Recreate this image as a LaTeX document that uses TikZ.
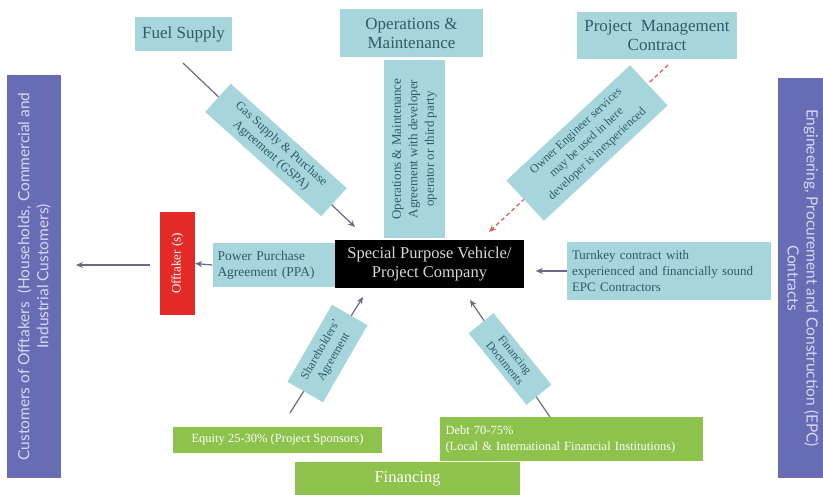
\documentclass[tikz,border=0pt]{standalone}
\usepackage{fontspec}
\setmainfont{Liberation Serif}
\newfontfamily\purplefont{Lato}
\usetikzlibrary{arrows.meta}
\definecolor{tealbox}{RGB}{166,214,219}
\definecolor{tealtext}{RGB}{45,92,108}
\definecolor{purplebox}{RGB}{104,108,180}
\definecolor{purpletext}{RGB}{214,216,238}
\definecolor{redbox}{RGB}{226,42,38}
\definecolor{greenbox}{RGB}{141,194,76}
\definecolor{arrowgrey}{RGB}{105,105,140}
\definecolor{dashred}{RGB}{226,95,85}
\definecolor{spvtext}{RGB}{215,215,215}
\begin{document}
\begin{tikzpicture}[x=1pt,y=-1pt,
  box/.style={rectangle, inner sep=2pt, align=center},
  tealnode/.style={box, fill=tealbox, text=tealtext},
  purplenode/.style={box, fill=purplebox, text=purpletext, font=\purplefont\fontsize{15.5}{19}\selectfont},
  greennode/.style={box, fill=greenbox, text=white},
  arr/.style={draw=arrowgrey, line width=1.2pt, -{Stealth[length=7pt,width=6pt]}},
  dasharr/.style={draw=dashred, line width=1.3pt, dash pattern=on 4pt off 3pt, -{Stealth[length=7pt,width=6pt]}},
  big/.style={font=\fontsize{17}{19}\selectfont},
  mid/.style={font=\fontsize{13.5}{16}\selectfont}
]
\useasboundingbox (0,0) rectangle (823,495);
\fill[white] (0,0) rectangle (823,495);

% top boxes
\node[tealnode, big, minimum width=97, minimum height=34] (fuel) at (183.5,34) {Fuel Supply};
\node[tealnode, big, minimum width=143, minimum height=48] (omtop) at (411.5,33) {Operations \&\\Maintenance};
\node[tealnode, big, minimum width=160, minimum height=47] (pmc) at (657,35.5) {Project \ Management\\Contract};

% side purple boxes
\node[purplenode, rotate=90, minimum width=403, minimum height=54] (cust) at (34,276.5)
  {Customers of Offtakers \ (Households, Commercial and\\Industrial Customers)};
\node[purplenode, rotate=-90, minimum width=400, minimum height=50] (epc) at (803,278)
  {Engineering, Procurement and Construction (EPC)\\Contracts};

% middle row
\node[box, fill=redbox, text=white, font=\fontsize{13}{15}\selectfont, rotate=90, minimum width=103, minimum height=35] (off) at (177.5,263.5) {Offtaker (s)};
\node[tealnode, mid, align=left, text width=114, minimum width=124, minimum height=44] (ppa) at (274.5,265) {Power Purchase\\Agreement (PPA)};
\node[box, fill=black, text=spvtext, font=\fontsize{16.5}{19}\selectfont, minimum width=189, minimum height=48] (spv) at (429.5,264) {Special Purpose Vehicle/\\Project Company};
\node[tealnode, font=\fontsize{13}{16}\selectfont, align=left, text width=194, minimum width=204, minimum height=58] (epcc) at (669,271) {Turnkey contract with\\experienced and financially sound\\EPC Contractors};

% vertical O&M agreement
\node[tealnode, font=\fontsize{13}{16.5}\selectfont, rotate=90, minimum width=178, minimum height=61] (omag) at (414.5,149)
  {Operations \& Maintenance\\Agreement with developer\\operator or third party};

% bottom green boxes
\node[greennode, font=\fontsize{12.5}{14}\selectfont, minimum width=209, minimum height=26] (eq) at (277.5,440) {Equity 25-30\% (Project Sponsors)};
\node[greennode, font=\fontsize{12.5}{16}\selectfont, align=left, text width=252, minimum width=263, minimum height=44] (debt) at (571.5,439) {Debt 70-75\%\\(Local \& International Financial Institutions)};
\node[greennode, font=\fontsize{16.5}{18}\selectfont, minimum width=225, minimum height=34] (fin) at (407.5,479) {Financing};

% connector end points
\coordinate (gsT) at (183,63);
\coordinate (gsH) at (355,227);
\coordinate (oeT) at (668,65);
\coordinate (oeH) at (489,232);
\coordinate (shT) at (290,413);
\coordinate (shH) at (363,297);
\coordinate (fdT) at (550,417);
\coordinate (fdH) at (470,300);
\coordinate (custH) at (76,265);
\coordinate (offT) at (150,265);

% connectors
\draw[arr] (offT) -- (custH);
\draw[arr] (ppa.west) -- (off.south);
\draw[arr] (epcc.west) -- ++(-31,0) coordinate (epcH);
\draw[arr] (gsT) -- (gsH);
\draw[dasharr] (oeT) -- (oeH);
\draw[arr] (shT) -- (shH);
\draw[arr] (fdT) -- (fdH);

% rotated labels on connectors
\node[tealnode, rotate=-42, minimum width=156, minimum height=38, font=\fontsize{12.5}{15}\selectfont] (gspa) at (276,150)
  {Gas Supply \& Purchase\\Agreement (GSPA)};
\node[tealnode, rotate=43, minimum width=169, minimum height=55, font=\fontsize{12}{15.5}\selectfont] (owner) at (587,143)
  {Owner Engineer services\\may be used in here\\developer is inexperienced};
\node[tealnode, rotate=60, minimum width=89, minimum height=41, font=\fontsize{12}{15}\selectfont] (sha) at (327.5,353.5)
  {Shareholders'\\Agreement};
\node[tealnode, rotate=-51, minimum width=92, minimum height=32, font=\fontsize{11.5}{13}\selectfont] (fdoc) at (510,359)
  {Financing\\Documents};
\end{tikzpicture}
\end{document}
